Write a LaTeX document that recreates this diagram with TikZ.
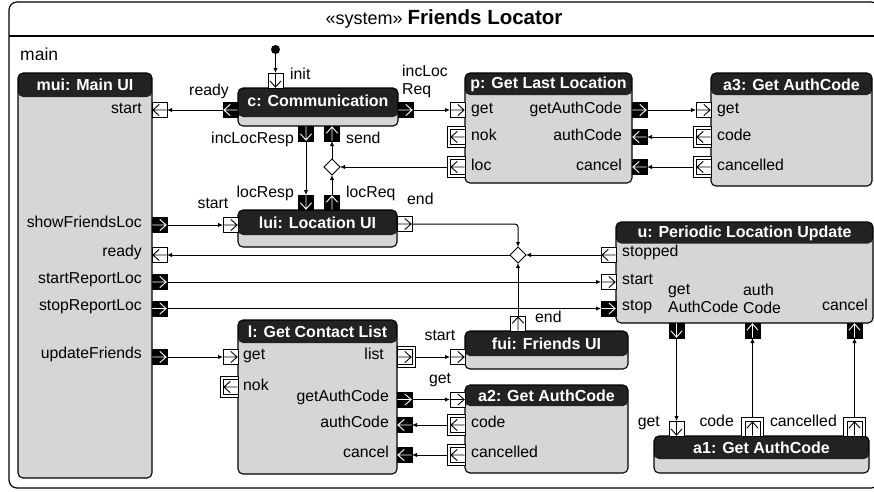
\documentclass[tikz,border=0pt]{standalone}
\usepackage{fontspec}
\setmainfont{Liberation Sans}
\usetikzlibrary{arrows.meta,shapes.geometric}
\definecolor{hdr}{HTML}{222222}
\definecolor{bodyg}{HTML}{D6D6D6}
\newcommand\glyph[3]{%
  \begin{scope}[shift={(#1.center)}, rotate=#2]
    \draw[#3, line width=0.9pt, line cap=butt, line join=miter] (-7.2pt,0pt) -- (6.6pt,0pt) (0.3pt,5.6pt) -- (6.6pt,0pt) -- (0.3pt,-5.6pt);
  \end{scope}}
\newcommand\sport[5]{\node[#3] (#1) at #2 {};\glyph{#1}{#4}{#5}}
\newcommand\dport[6]{%
  \node[oport, minimum width=#4, minimum height=#5] (#1-o) at #3 {};
  \node[wport] (#1) at #2 {};
  \glyph{#1}{#6}{black}}
\begin{document}
\begin{tikzpicture}[x=1pt,y=-1pt,
  comp/.style={draw=black, line width=1.1pt, rounded corners=5pt, fill=bodyg, inner sep=0pt, outer sep=0pt, anchor=north west,
    path picture={\fill[hdr] (path picture bounding box.north west) rectangle ([yshift=-#1]path picture bounding box.north east);}},
  htitle/.style={text=white, font=\fontsize{16}{18}\selectfont\bfseries, inner sep=0pt},
  lbl/.style={font=\fontsize{15.8}{18}\selectfont, inner sep=0pt, text=black},
  wport/.style={draw=black, fill=white, line width=0.9pt, minimum width=15pt, minimum height=15pt, inner sep=0pt, outer sep=0pt},
  bport/.style={wport, fill=black},
  oport/.style={draw=black, fill=white, line width=0.9pt, inner sep=0pt, outer sep=0pt},
  dia/.style={diamond, draw=black, fill=white, line width=1pt, minimum width=16pt, minimum height=16pt, inner sep=0pt, outer sep=0pt},
  conn/.style={line width=1pt, -{Latex[length=5pt,width=4.5pt]}}
]
\useasboundingbox (0,0) rectangle (874,491);
\clip (0,0) rectangle (874,491);
% frame
\draw[line width=1.2pt, rounded corners=8pt] (9,2) rectangle (879,488);
\draw[line width=1.2pt] (9,36) -- (879,36);
\node[inner sep=0pt] (title) at (444,19) {{\fontsize{18}{20}\selectfont «system»}\hspace{5pt}{\fontsize{20.5}{22}\selectfont\bfseries Friends Locator}};
\node[lbl, font=\fontsize{17.5}{20}\selectfont, anchor=mid west] (mainlbl) at (20,58) {main};

% components
\node[comp=24pt, minimum width=134pt, minimum height=405pt] (mui) at (18,73) {};
\node[htitle] (mui-t) at (85,85) {mui: Main UI};
\node[comp=29pt, minimum width=160pt, minimum height=38pt] (c) at (238,88) {};
\node[htitle] (c-t) at (318,101) {c: Communication};
\node[comp=25pt, minimum width=159pt, minimum height=37pt] (lui) at (238,210) {};
\node[htitle] (lui-t) at (317.5,223) {lui: Location UI};
\node[comp=22pt, minimum width=167pt, minimum height=110pt] (p) at (465,73) {};
\node[htitle] (p-t) at (548.5,84.5) {p: Get Last Location};
\node[comp=22pt, minimum width=161pt, minimum height=113pt] (a3) at (711,73) {};
\node[htitle] (a3-t) at (791.5,84.5) {a3: Get AuthCode};
\node[comp=21.5pt, minimum width=257pt, minimum height=101pt] (u) at (616,222) {};
\node[htitle] (u-t) at (744.5,233) {u: Periodic Location Update};
\node[comp=23pt, minimum width=159pt, minimum height=154pt] (l) at (238,320) {};
\node[htitle] (l-t) at (317.5,332) {l: Get Contact List};
\node[comp=25pt, minimum width=163pt, minimum height=38pt] (fui) at (465,331) {};
\node[htitle] (fui-t) at (546.5,343.5) {fui: Friends UI};
\node[comp=21pt, minimum width=163pt, minimum height=88pt] (a2) at (465,385) {};
\node[htitle] (a2-t) at (546.5,395.5) {a2: Get AuthCode};
\node[comp=23pt, minimum width=215pt, minimum height=37pt] (a1) at (654,436) {};
\node[htitle] (a1-t) at (761.5,447.5) {a1: Get AuthCode};

% initial state and diamonds
\node[circle, fill=black, minimum size=9pt, inner sep=0pt] (init) at (275.5,49.5) {};
\node[dia] (d1) at (332,167) {};
\node[dia] (d2) at (518,255) {};

% ports
\sport{c-init}{(275.5,80.5)}{wport}{270}{black}
\sport{c-ready}{(230.5,110)}{bport}{180}{white}
\sport{c-req}{(405.5,110)}{bport}{0}{white}
\sport{c-resp}{(306,133.5)}{bport}{270}{white}
\sport{c-send}{(332,133.5)}{bport}{90}{white}
\sport{lui-resp}{(306,202.5)}{bport}{270}{white}
\sport{lui-req}{(332,202.5)}{bport}{90}{white}
\sport{lui-start}{(230.5,225)}{wport}{0}{black}
\sport{lui-end}{(404.5,224)}{wport}{0}{black}
\sport{mui-start}{(159.5,110)}{wport}{180}{black}
\sport{mui-sfl}{(159.5,225)}{bport}{0}{white}
\sport{mui-ready}{(159.5,255)}{wport}{180}{black}
\sport{mui-srl}{(159.5,282)}{bport}{0}{white}
\sport{mui-stl}{(159.5,308.5)}{bport}{0}{white}
\sport{mui-uf}{(159.5,357)}{bport}{0}{white}
\sport{p-get}{(457.5,110)}{wport}{0}{black}
\dport{p-nok}{(457.5,137)}{(456,137)}{18pt}{21pt}{180}
\dport{p-loc}{(457.5,167)}{(456,167)}{18pt}{21pt}{180}
\sport{p-gac}{(639.5,110)}{bport}{0}{white}
\sport{p-ac}{(639.5,137)}{bport}{180}{white}
\sport{p-can}{(639.5,167)}{bport}{180}{white}
\sport{a3-get}{(703.5,110)}{wport}{0}{black}
\dport{a3-code}{(703.5,137)}{(702,137)}{18pt}{21pt}{180}
\dport{a3-canc}{(703.5,167)}{(702,167)}{18pt}{21pt}{180}
\sport{u-stopped}{(608.5,255)}{wport}{180}{black}
\sport{u-start}{(608.5,282)}{wport}{0}{black}
\sport{u-stop}{(608.5,308.5)}{bport}{0}{white}
\sport{u-gac}{(676.5,330.5)}{bport}{270}{white}
\sport{u-ac}{(752.5,330.5)}{bport}{90}{white}
\sport{u-can}{(854.5,330.5)}{bport}{90}{white}
\sport{a1-get}{(676.5,428.5)}{wport}{270}{black}
\dport{a1-code}{(752.5,428.5)}{(752.5,426.5)}{22pt}{19pt}{90}
\dport{a1-canc}{(854.5,428.5)}{(854.5,426.5)}{22pt}{19pt}{90}
\sport{l-get}{(230.5,357)}{wport}{0}{black}
\dport{l-nok}{(230.5,387)}{(229,387)}{18pt}{21pt}{180}
\dport{l-list}{(404.5,357)}{(406,357)}{18pt}{21pt}{0}
\sport{l-gac}{(404.5,399.5)}{bport}{0}{white}
\sport{l-ac}{(404.5,425)}{bport}{180}{white}
\sport{l-can}{(404.5,455)}{bport}{180}{white}
\sport{fui-start}{(457.5,357)}{wport}{0}{black}
\sport{fui-end}{(518,323.5)}{wport}{90}{black}
\sport{a2-get}{(457.5,399.5)}{wport}{0}{black}
\dport{a2-code}{(457.5,425)}{(456,425)}{18pt}{21pt}{180}
\dport{a2-canc}{(457.5,455)}{(456,455)}{18pt}{21pt}{180}

% connectors
\draw[conn] (init) -- (c-init.north);
\draw[conn] (c-ready.west) -- (mui-start.east);
\draw[conn] (c-req.east) -- (p-get.west);
\draw[conn] (p-gac.east) -- (a3-get.west);
\draw[conn] (a3-code-o.west) -- (p-ac.east);
\draw[conn] (a3-canc-o.west) -- (p-can.east);
\draw[conn] (p-loc-o.west) -- (d1.east);
\draw[conn] (d1.north) -- (c-send.south);
\draw[conn] (lui-req.north) -- (d1.south);
\draw[conn] (c-resp.south) -- (lui-resp.north);
\draw[conn] (mui-sfl.east) -- (lui-start.west);
\draw[conn, rounded corners=3pt] (lui-end.east) -- (d2.center |- lui-end.east) -- (d2.north);
\draw[conn] (u-stopped.west) -- (d2.east);
\draw[conn] (d2.west) -- (mui-ready.east);
\draw[conn] (fui-end.north) -- (d2.south);
\draw[conn] (mui-srl.east) -- (u-start.west);
\draw[conn] (mui-stl.east) -- (u-stop.west);
\draw[conn] (mui-uf.east) -- (l-get.west);
\draw[conn] (l-list-o.east) -- (fui-start.west);
\draw[conn] (l-gac.east) -- (a2-get.west);
\draw[conn] (a2-code-o.west) -- (l-ac.east);
\draw[conn] (a2-canc-o.west) -- (l-can.east);
\draw[conn] (u-gac.south) -- (a1-get.north);
\draw[conn] (a1-code-o.north) -- (u-ac.south);
\draw[conn] (a1-canc-o.north) -- (u-can.south);

% labels: mui
\node[lbl, anchor=mid east] (t1) at (142,111) {start};
\node[lbl, anchor=mid east] (t2) at (142,225) {showFriendsLoc};
\node[lbl, anchor=mid east] (t3) at (142,254) {ready};
\node[lbl, anchor=mid east] (t4) at (142,281) {startReportLoc};
\node[lbl, anchor=mid east] (t5) at (142,308) {stopReportLoc};
\node[lbl, anchor=mid east] (t6) at (142,356) {updateFriends};
% labels: c and lui
\node[lbl, anchor=mid] (t7) at (209,93) {ready};
\node[lbl, anchor=mid west] (t8) at (290,77) {init};
\node[lbl, anchor=west, align=left] (t9) at (402,81.5) {incLoc\\Req};
\node[lbl, anchor=mid east] (t10) at (294,141) {incLocResp};
\node[lbl, anchor=mid west] (t11) at (346,141) {send};
\node[lbl, anchor=mid east] (t12) at (294,195) {locResp};
\node[lbl, anchor=mid west] (t13) at (346,195) {locReq};
\node[lbl, anchor=mid] (t14) at (213,206) {start};
\node[lbl, anchor=mid west] (t15) at (407,202) {end};
% labels: p
\node[lbl, anchor=mid west] (t16) at (471,111) {get};
\node[lbl, anchor=mid west] (t17) at (471,138) {nok};
\node[lbl, anchor=mid west] (t18) at (471,168) {loc};
\node[lbl, anchor=mid east] (t19) at (622,111) {getAuthCode};
\node[lbl, anchor=mid east] (t20) at (622,138) {authCode};
\node[lbl, anchor=mid east] (t21) at (622,168) {cancel};
% labels: a3
\node[lbl, anchor=mid west] (t22) at (717,111) {get};
\node[lbl, anchor=mid west] (t23) at (717,138) {code};
\node[lbl, anchor=mid west] (t24) at (717,168) {cancelled};
% labels: u
\node[lbl, anchor=mid west] (t25) at (622,254) {stopped};
\node[lbl, anchor=mid west] (t26) at (622,282) {start};
\node[lbl, anchor=mid west] (t27) at (622,308) {stop};
\node[lbl, anchor=west, align=left] (t28) at (668,298.5) {get\\AuthCode};
\node[lbl, anchor=west, align=left] (t29) at (743,298.5) {auth\\Code};
\node[lbl, anchor=mid east] (t30) at (868,308) {cancel};
% labels: a1
\node[lbl, anchor=mid east] (t31) at (660,424) {get};
\node[lbl, anchor=mid east] (t32) at (734,424) {code};
\node[lbl, anchor=mid east] (t33) at (837,424) {cancelled};
% labels: l
\node[lbl, anchor=mid west] (t34) at (243,357) {get};
\node[lbl, anchor=mid west] (t35) at (243,388) {nok};
\node[lbl, anchor=mid east] (t36) at (384,357) {list};
\node[lbl, anchor=mid east] (t37) at (389,399) {getAuthCode};
\node[lbl, anchor=mid east] (t38) at (389,425) {authCode};
\node[lbl, anchor=mid east] (t39) at (389,455) {cancel};
% labels: fui and a2
\node[lbl, anchor=mid] (t40) at (440,338) {start};
\node[lbl, anchor=mid west] (t41) at (535,320) {end};
\node[lbl, anchor=mid] (t42) at (440,381) {get};
\node[lbl, anchor=mid west] (t43) at (471,425) {code};
\node[lbl, anchor=mid west] (t44) at (471,455) {cancelled};
\end{tikzpicture}
\end{document}
